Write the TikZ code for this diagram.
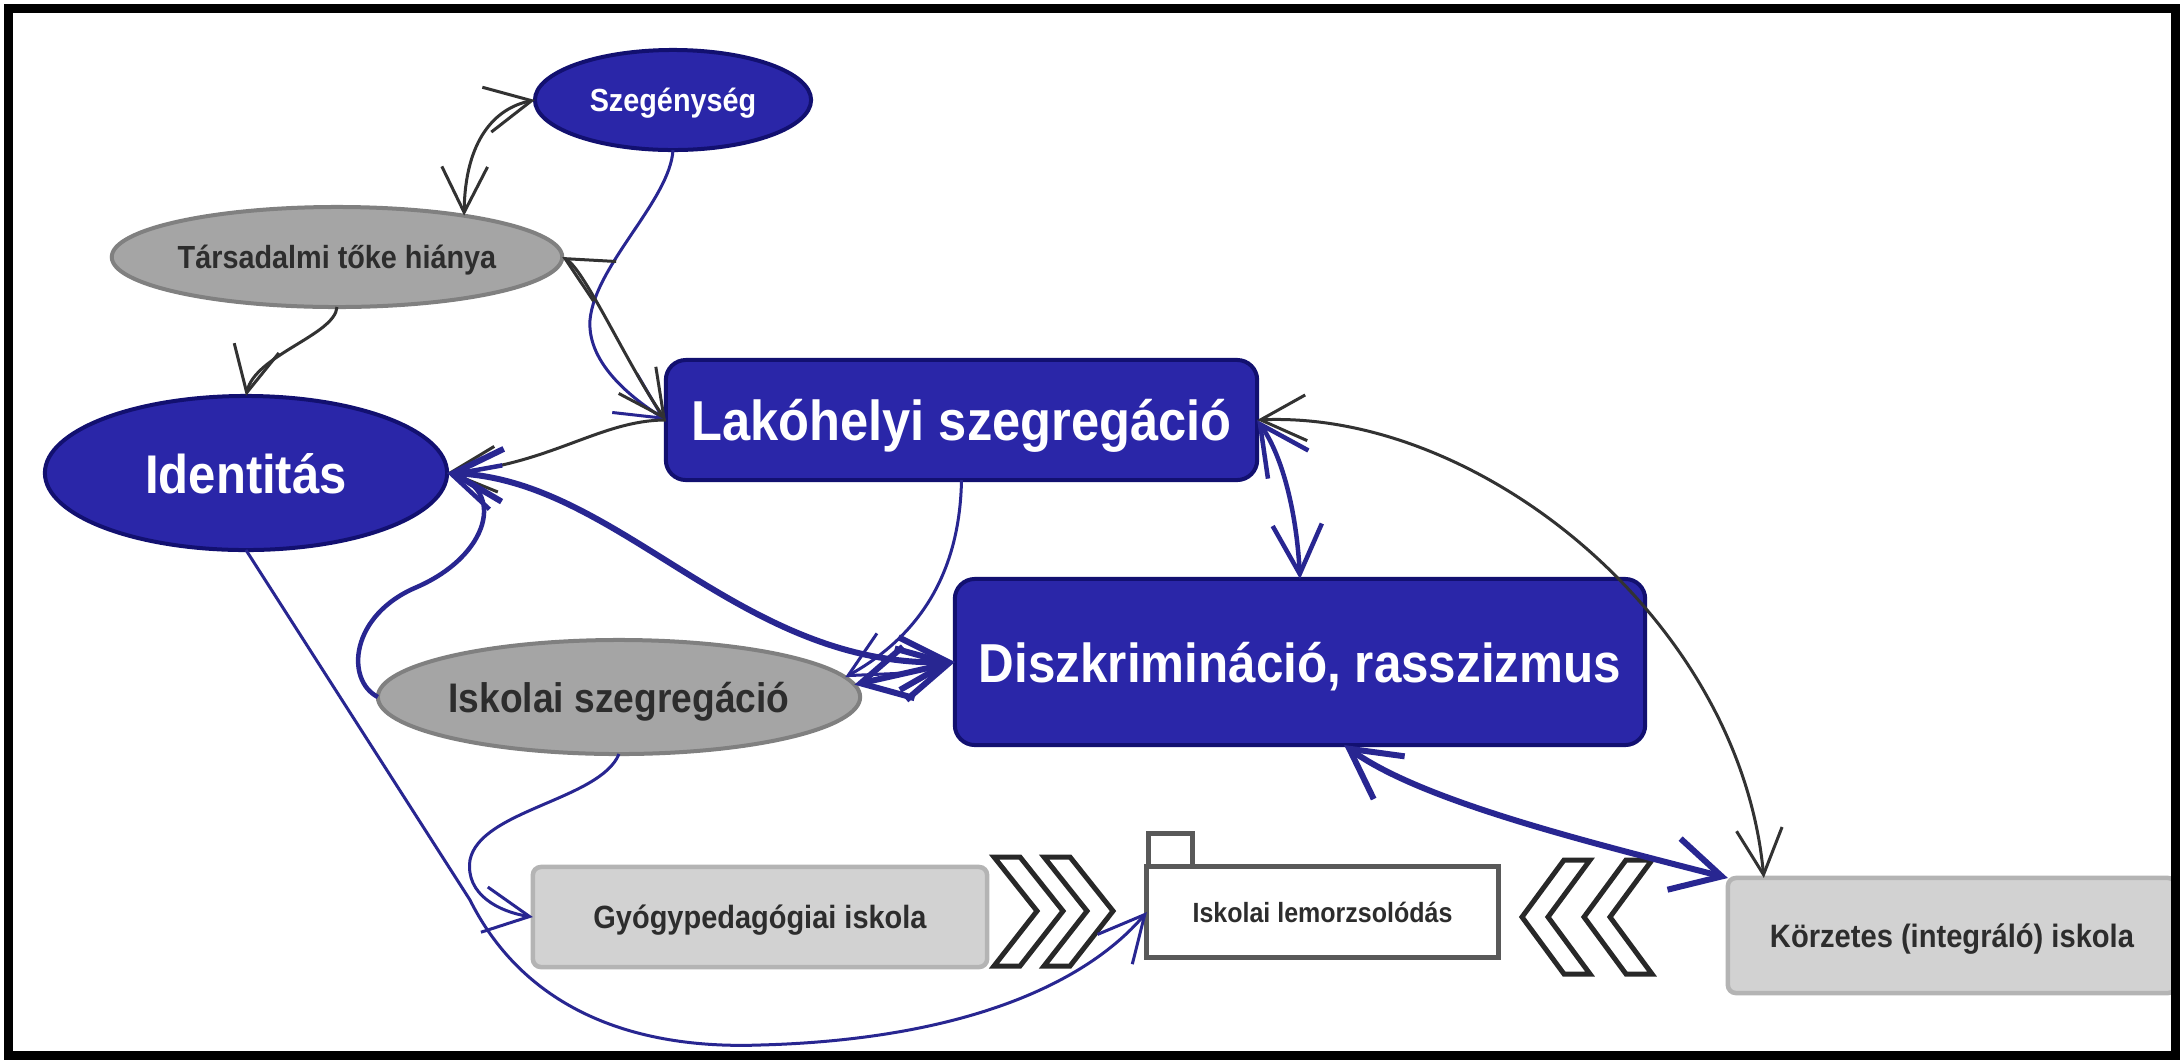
\documentclass[tikz,border=0pt]{standalone}
\usepackage{fontspec}
\newfontfamily\lab[FakeStretch=0.9]{Liberation Sans}
\usetikzlibrary{arrows.meta,shapes.geometric}
\definecolor{nfill}{RGB}{42,38,168}
\definecolor{nedge}{RGB}{18,16,112}
\definecolor{bline}{RGB}{40,38,145}
\definecolor{gfill}{RGB}{165,165,165}
\definecolor{gedge}{RGB}{128,128,128}
\definecolor{lfill}{RGB}{210,210,210}
\definecolor{ledge}{RGB}{180,180,180}
\definecolor{dtext}{RGB}{45,45,45}
\definecolor{kline}{RGB}{50,50,50}
\definecolor{chev}{RGB}{40,40,40}
\newcommand\myfs[1]{\lab\bfseries\fontsize{#1}{#1}\selectfont}
\begin{document}
\begin{tikzpicture}[x=0.01cm,y=-0.01cm,
  every node/.style={inner sep=0pt, outer sep=0pt, text depth=0pt},
  blueell/.style={ellipse, draw=nedge, line width=0.04cm, fill=nfill, text=white},
  grayell/.style={ellipse, draw=gedge, line width=0.04cm, fill=gfill, text=dtext},
  bluebox/.style={rectangle, rounded corners=0.2cm, draw=nedge, line width=0.04cm, fill=nfill, text=white},
  graybox/.style={rectangle, rounded corners=0.08cm, draw=ledge, line width=0.045cm, fill=lfill, text=dtext},
  whitebox/.style={rectangle, draw=black!65, line width=0.05cm, fill=white, text=dtext},
  chevron/.style={draw=chev, line width=0.05cm, line join=miter},
  kone/.style={draw=kline, line width=0.03cm, -{Straight Barb[length=13pt,width=13pt]}},
  ktwo/.style={draw=kline, line width=0.03cm, {Straight Barb[length=13pt,width=13pt]}-{Straight Barb[length=13pt,width=13pt]}},
  bthin/.style={draw=bline, line width=0.03cm, -{Straight Barb[length=13pt,width=13pt]}},
  bmed/.style={draw=bline, line width=0.045cm, -{Straight Barb[length=13pt,width=13pt]}},
  bmedtwo/.style={draw=bline, line width=0.045cm, {Straight Barb[length=14pt,width=14pt]}-{Straight Barb[length=14pt,width=14pt]}},
  bthicktwo/.style={draw=bline, line width=0.06cm, {Straight Barb[length=14pt,width=15pt]}-{Straight Barb[length=14pt,width=15pt]}}
]
\useasboundingbox (0,0) rectangle (2182,1060);
\fill[white] (0,0) rectangle (2182,1060);

% nodes
\node[blueell, minimum width=2.76cm, minimum height=1.00cm, font={\myfs{9.1}}] (sz) at (673,100) {Szegénység};
\node[grayell, minimum width=4.34cm, minimum height=1.00cm, font={\myfs{9.1}}] (tk) at (337,257) {Társadalmi tőke hiánya};
\node[blueell, minimum width=4.02cm, minimum height=1.54cm, font={\myfs{15.5}}] (id) at (246,473) {Identitás};
\node[bluebox, minimum width=5.91cm, minimum height=1.20cm, font={\myfs{16}}] (lak) at (961.5,420) {Lakóhelyi szegregáció};
\node[bluebox, minimum width=6.90cm, minimum height=1.66cm, font={\myfs{15.6}}] (disz) at (1300,662) {Diszkrimináció, rasszizmus};
\node[grayell, minimum width=4.46cm, minimum height=1.14cm, font={\myfs{11.75}}] (isk) at (619,697) {Iskolai szegregáció};
\node[graybox, minimum width=4.54cm, minimum height=1.00cm, font={\myfs{9.15}}] (gyp) at (760,917) {Gyógypedagógiai iskola};
\node[whitebox, minimum width=3.51cm, minimum height=0.90cm, font={\myfs{7.9}}] (lem) at (1322.5,912) {Iskolai lemorzsolódás};
\draw[draw=black!65, line width=0.05cm, fill=white] (lem.north west) ++(2,0) rectangle ++(44,-33);
\node[graybox, minimum width=4.48cm, minimum height=1.15cm, font={\myfs{9.2}}] (kor) at (1952,935.5) {Körzetes (integráló) iskola};

% chevrons >>
\draw[chevron] (994,857) -- (1020,857) -- (1063,911) -- (1020,966) -- (994,966) -- (1037,911) -- cycle;
\draw[chevron] (1044,857) -- (1070,857) -- (1113,911) -- (1070,966) -- (1044,966) -- (1087,911) -- cycle;
% chevrons <<
\draw[chevron] (1590,860) -- (1564,860) -- (1522,917) -- (1564,974) -- (1590,974) -- (1548,917) -- cycle;
\draw[chevron] (1652,860) -- (1626,860) -- (1584,917) -- (1626,974) -- (1652,974) -- (1610,917) -- cycle;

% connectors
\draw[ktwo] (sz.west) .. controls (495,108) and (465,140) .. (tk.18);
\draw[bthin] (sz.south) .. controls (670,200) and (595,265) .. (590,320) .. controls (587,365) and (635,400) .. (lak.west);
\draw[ktwo] (tk.east) .. controls (585,270) and (630,370) .. (lak.west);
\draw[kone] (tk.south) .. controls (335,335) and (255,355) .. (id.north);
\draw[kone] (lak.west) .. controls (600,420) and (550,465) .. (id.east);
\draw[bthicktwo] (id.east) .. controls (620,480) and (740,668) .. (disz.west);
\draw[bmed] (isk.west) .. controls (345,680) and (350,615) .. (417,587) .. controls (490,555) and (505,490) .. (id.east);
\draw[bthin] (lak.south) .. controls (960,560) and (930,630) .. (isk.5);
\draw[bthicktwo] (isk.3) -- (disz.west);
\draw[bmedtwo] (lak.east) .. controls (1285,460) and (1297,520) .. (disz.north);
\draw[ktwo] (lak.east) .. controls (1480,410) and (1740,620) .. (kor.163);
\draw[bthicktwo] (disz.-62) .. controls (1420,800) and (1580,840) .. (kor.north west);
\draw[bthin] (id.south) -- (470,900) .. controls (520,1000) and (620,1050) .. (760,1045) .. controls (950,1040) and (1080,990) .. (lem.west);
\draw[bthin] (isk.south) .. controls (600,800) and (480,810) .. (470,860) .. controls (465,895) and (500,912) .. (gyp.west);

% frame
\draw[line width=0.09cm] (8.5,8.5) rectangle (2175.5,1055.5);
\end{tikzpicture}
\end{document}
